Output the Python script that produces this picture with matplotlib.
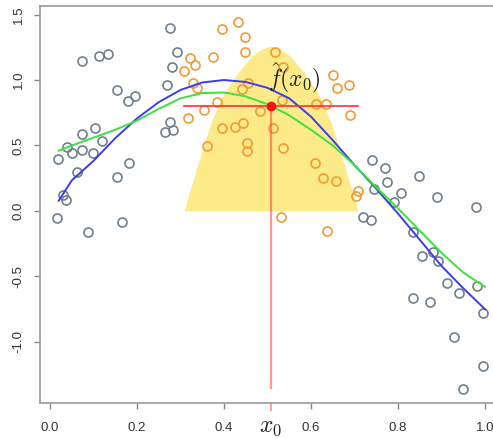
import matplotlib
matplotlib.use("Agg")
import matplotlib.pyplot as plt

plt.rcParams['font.family'] = ['Liberation Sans', 'DejaVu Sans']
plt.rcParams['mathtext.fontset'] = 'cm'

# points outside the kernel window (gray)
gray_x = [0.016, 0.087, 0.166, 0.030, 0.037, 0.018, 0.062, 0.154, 0.182, 0.039,
          0.051, 0.074, 0.099, 0.120, 0.074, 0.103, 0.074, 0.113, 0.133, 0.154,
          0.179, 0.195, 0.276, 0.292, 0.280, 0.269, 0.276, 0.264, 0.283,
          0.740, 0.770, 0.775, 0.745, 0.807, 0.791, 0.848, 0.890, 0.979, 0.720,
          0.738, 0.834, 0.855, 0.880, 0.892, 0.913, 0.940, 0.982, 0.995, 0.834,
          0.874, 0.929, 0.995, 0.949]
gray_y = [-0.053, -0.160, -0.084, 0.122, 0.084, 0.397, 0.298, 0.260, 0.366, 0.489,
          0.443, 0.466, 0.443, 0.534, 0.588, 0.634, 1.145, 1.183, 1.198, 0.924,
          0.840, 0.878, 1.397, 1.214, 1.099, 0.962, 0.679, 0.603, 0.618,
          0.389, 0.328, 0.221, 0.168, 0.137, 0.069, 0.267, 0.107, 0.031, -0.046,
          -0.069, -0.160, -0.344, -0.313, -0.382, -0.550, -0.626, -0.573, -0.779, -0.664,
          -0.695, -0.962, -1.183, -1.359]

# points inside the kernel window (orange)
orange_x = [0.432, 0.395, 0.448, 0.448, 0.517, 0.375, 0.322, 0.333, 0.308, 0.329,
            0.338, 0.441, 0.455, 0.384, 0.354, 0.317, 0.483, 0.513, 0.395, 0.425,
            0.444, 0.361, 0.453, 0.453, 0.536, 0.531, 0.536, 0.651, 0.660, 0.687,
            0.611, 0.634, 0.690, 0.533, 0.609, 0.628, 0.657, 0.708, 0.703, 0.637]
orange_y = [1.443, 1.389, 1.328, 1.214, 1.214, 1.176, 1.168, 1.115, 1.069, 0.977,
            0.939, 0.931, 0.977, 0.832, 0.771, 0.710, 0.763, 0.634, 0.634, 0.641,
            0.672, 0.496, 0.519, 0.458, 0.481, -0.046, 1.099, 1.038, 0.939, 0.962,
            0.817, 0.817, 0.733, 0.847, 0.366, 0.252, 0.229, 0.153, 0.115, -0.153]

# true curve (blue) and fitted curve (green)
curve_x = [0.02, 0.05, 0.1, 0.15, 0.2, 0.25, 0.3, 0.35, 0.4, 0.45, 0.5,
           0.55, 0.6, 0.65, 0.7, 0.75, 0.8, 0.85, 0.9, 0.95, 1.0]
blue_y = [0.078, 0.233, 0.383, 0.556, 0.707, 0.831, 0.924, 0.981, 1.0, 0.985, 0.94,
          0.86, 0.72, 0.54, 0.35, 0.17, -0.02, -0.22, -0.42, -0.59, -0.75]
green_y = [0.46, 0.50, 0.56, 0.62, 0.69, 0.78, 0.86, 0.90, 0.905, 0.875, 0.815,
           0.73, 0.62, 0.50, 0.35, 0.18, 0.02, -0.15, -0.32, -0.47, -0.58]

# kernel weight shape (yellow)
kernel_x = [0.308, 0.338, 0.368, 0.391, 0.414, 0.437, 0.464, 0.487, 0.508,
            0.529, 0.552, 0.579, 0.602, 0.625, 0.648, 0.678, 0.708]
kernel_h = [0.0, 0.336, 0.656, 0.847, 0.969, 1.076, 1.183, 1.237, 1.26,
            1.237, 1.183, 1.076, 0.969, 0.847, 0.656, 0.336, 0.0]

x0 = 0.508
fx0 = 0.80
local_x = [0.308, 0.708]
local_y = [0.80, 0.80]
vline_bottom = -1.35

xticks = [0.0, 0.2, 0.4, 0.6, 0.8, 1.0]
yticks = [-1.0, -0.5, 0.0, 0.5, 1.0, 1.5]

fig = plt.figure(figsize=(4.93, 4.38), dpi=100)
ax = fig.add_axes([40 / 493, 35 / 438, 0.938, 397 / 438])

ax.fill_between(kernel_x, 0, kernel_h, color='#fdea88', lw=0, zorder=1)

ax.plot(gray_x, gray_y, 'o', mfc='none', mec='#6f7f8f', ms=6.5, mew=1.2, zorder=2)
ax.plot(orange_x, orange_y, 'o', mfc='none', mec='#f39a33', ms=6.5, mew=1.2, zorder=2)

ax.plot(curve_x, blue_y, color='#3c3cf0', lw=1.4, zorder=3)
ax.plot(curve_x, green_y, color='#3ee03e', lw=1.4, zorder=3)

ax.plot([x0, x0], [fx0, vline_bottom], color='#ff3030', alpha=0.5, lw=1.6, zorder=4)
ax.plot(local_x, local_y, color='#ff3030', lw=1.2, zorder=4)
ax.plot([x0], [fx0], 'o', color='#ff1010', ms=6, zorder=5)
ax.text(0.562, 1.02, r'$\hat{f}(x_0)$', fontsize=17, ha='center', va='center',
        color='#222222', zorder=6)

ax.set_xlim(-0.023, 1.04)
ax.set_ylim(-1.466, 1.565)

ax.set_xticks(xticks)
ax.set_xticklabels(['%.1f' % v for v in xticks])
ax.set_xticks([x0], minor=True)
ax.set_xticklabels([r'$x_0$'], minor=True)
ax.set_yticks(yticks)
ax.set_yticklabels(['%.1f' % v for v in yticks], rotation=90, va='center')

ax.tick_params(axis='both', which='major', length=4, width=1, color='#888888',
               labelsize=9.5, labelcolor='#333333')
ax.tick_params(axis='x', which='major', pad=10)
ax.tick_params(axis='y', which='major', pad=7)
ax.tick_params(axis='x', which='minor', length=6, width=1.2, color='#ff9090',
               labelsize=17, labelcolor='#222222', pad=3)

for s in ax.spines.values():
    s.set_color('#999999')
    s.set_linewidth(1.2)

fig.savefig('out.png', dpi=100)
